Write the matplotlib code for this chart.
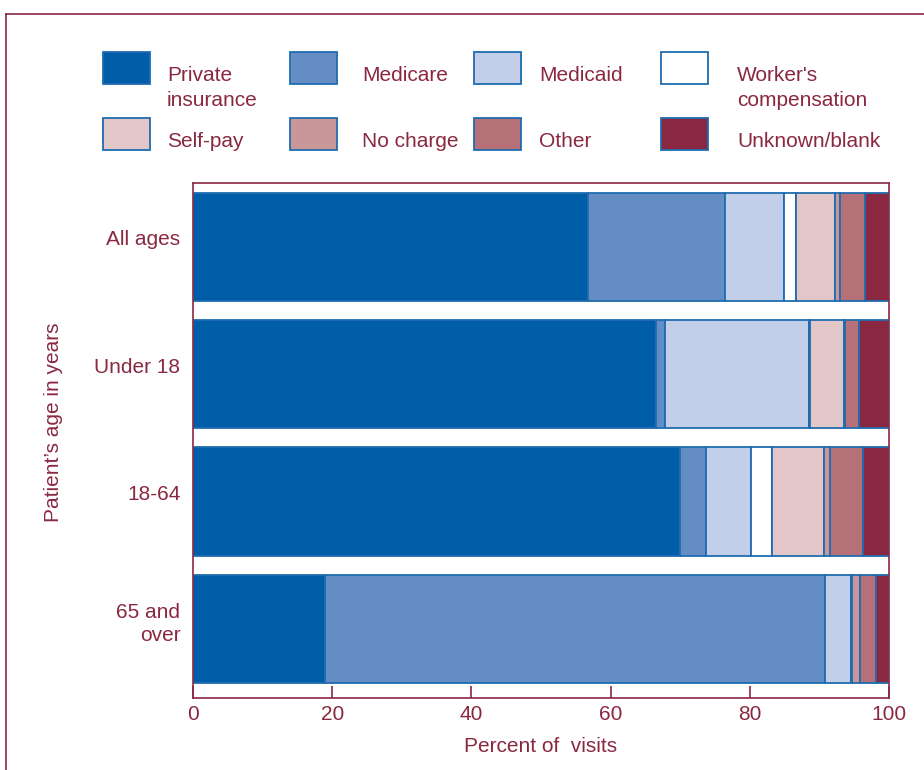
import matplotlib
matplotlib.use("Agg")
import matplotlib.pyplot as plt
import matplotlib.transforms as mtransforms
from matplotlib.patches import Rectangle
from matplotlib.lines import Line2D
import numpy as np

# --- data (percent of visits) ---
AGES = ["All ages", "Under 18", "18-64", "65 and\nover"]
SOURCES = ["Private\ninsurance", "Medicare", "Medicaid", "Worker's\ncompensation",
           "Self-pay", "No charge", "Other", "Unknown/blank"]
PRIVATE = [56.7, 66.5, 69.9, 19.0]
MEDICARE = [19.7, 1.3, 3.8, 71.8]
MEDICAID = [8.5, 20.7, 6.5, 3.7]
WORKERS = [1.8, 0.1, 3.0, 0.0]
SELF_PAY = [5.5, 5.0, 7.5, 0.2]
NO_CHARGE = [0.7, 0.1, 0.8, 1.2]
OTHER = [3.7, 2.0, 4.8, 2.3]
UNKNOWN = [3.4, 4.3, 3.7, 1.8]

COLORS = ["#005ea8", "#648dc5", "#c3cfe8", "#ffffff",
          "#e3c6c8", "#c9979a", "#b57078", "#8a2842"]
EDGE = "#1f6cb0"
RED = "#8a2842"
FS = 15

W, H = 924, 770
plt.rcParams["font.family"] = ["Liberation Sans", "DejaVu Sans"]

fig = plt.figure(figsize=(W / 100, H / 100), dpi=100)


def fx(px):
    return px / W


def fy(py):
    return 1 - py / H


# outer frame
fig.add_artist(Line2D([fx(6), fx(6)], [fy(14), 0], transform=fig.transFigure, color=RED, lw=1.2))
fig.add_artist(Line2D([fx(6), 1], [fy(14), fy(14)], transform=fig.transFigure, color=RED, lw=1.2))

ax = fig.add_axes([fx(193), fy(698), fx(889) - fx(193), fy(183) - fy(698)])

series = [PRIVATE, MEDICARE, MEDICAID, WORKERS, SELF_PAY, NO_CHARGE, OTHER, UNKNOWN]
y = np.arange(len(AGES))
left = np.zeros(len(AGES))
for vals, col in zip(series, COLORS):
    vals = np.array(vals)
    ax.barh(y, vals, left=left, height=0.85, color=col, edgecolor=EDGE, linewidth=1.3)
    left += vals

ax.set_xlim(0, 100)
ax.set_ylim(3.543, 3.543 - 4.045)
ax.set_yticks(y)
ax.set_yticklabels(AGES, fontsize=FS, ha="right", multialignment="right",
                   color=RED, linespacing=1.3)
ax.tick_params(axis="y", length=0, pad=9)
shift = mtransforms.ScaledTranslation(0, 9 / 100, fig.dpi_scale_trans)
for lab in ax.get_yticklabels():
    lab.set_transform(lab.get_transform() + shift)
ax.set_xticks([0, 20, 40, 60, 80, 100])
ax.tick_params(axis="x", direction="in", length=9, width=1.2, color=RED,
               labelsize=FS, labelcolor=RED, pad=5)
for s in ax.spines.values():
    s.set_color(RED)
    s.set_linewidth(1.2)
ax.set_xlabel("Percent of  visits", color=RED, fontsize=FS, labelpad=9.5)
ax.set_ylabel("Patient\u2019s age in years", color=RED, fontsize=FS, va="center")
ax.yaxis.set_label_coords(-0.2, 0.536)

# legend (manual, 4 columns x 2 rows)
patch_x = [103, 290, 474, 661]
text_x = [167, 362, 539, 737]
rows_y = [52, 118]
for i, (name, col) in enumerate(zip(SOURCES, COLORS)):
    r, c = divmod(i, 4)
    top = rows_y[r]
    fig.add_artist(Rectangle((fx(patch_x[c]), fy(top + 32)), fx(47), 32 / H,
                             transform=fig.transFigure, facecolor=col,
                             edgecolor=EDGE, linewidth=1.3))
    fig.text(fx(text_x[c]), fy(top + 14), name, color=RED, fontsize=FS,
             va="top", ha="left", linespacing=1.4)

fig.savefig("out.png", dpi=100)
